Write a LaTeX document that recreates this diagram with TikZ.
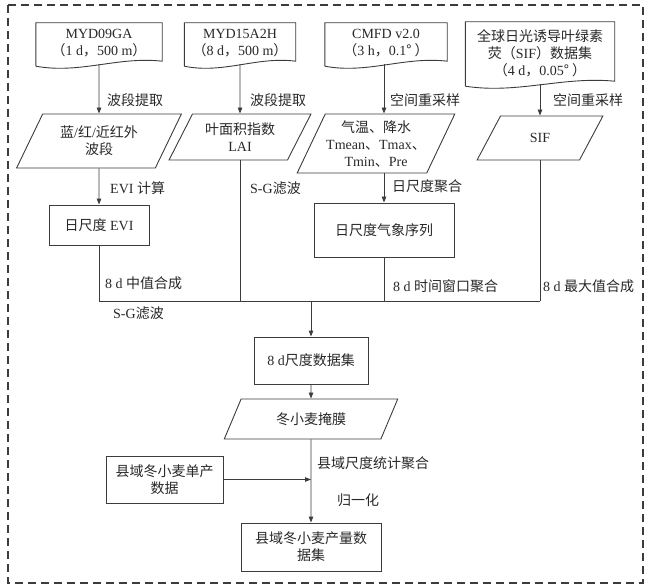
\documentclass[tikz,border=0pt]{standalone}
\usepackage{fontspec}
\setmainfont{Liberation Serif}
\newfontfamily\zhfont{Noto Sans CJK SC}
\newcommand{\zh}[1]{{\zhfont #1}}
\usepackage{tikz}
\usetikzlibrary{shapes.geometric,arrows.meta,positioning,calc}
\definecolor{linecolor}{RGB}{60,60,60}
\definecolor{textcolor}{RGB}{40,40,40}

% outline of a data source: box with a wavy bottom
\newcommand{\docwave}[1]{%
  \draw[line] ($(#1.south west)+(0,2)$) -- (#1.north west) -- (#1.north east)
    -- ($(#1.south east)+(0,-3)$)
    .. controls ($(#1.south east)!0.35!(#1.south west)+(0,-8)$)
    and ($(#1.south west)!0.35!(#1.south east)+(0,10)$) .. ($(#1.south west)+(0,2)$);
}

\begin{document}
\begin{tikzpicture}[
    x=1pt, y=-1pt,
    font=\fontsize{14}{17}\selectfont, text=textcolor,
    line/.style={draw=linecolor, line width=0.9pt},
    arr/.style={line, -{Triangle[length=6pt,width=4.5pt]}},
    datasrc/.style={rectangle, align=center, inner sep=0pt},
    para/.style={trapezium, trapezium left angle=60, trapezium right angle=120,
        trapezium stretches=true, draw=linecolor, line width=0.9pt, align=center, inner sep=1pt},
    box/.style={rectangle, draw=linecolor, line width=0.9pt, align=center},
    lbl/.style={anchor=west, inner sep=0pt}
]
    \useasboundingbox (0,0) rectangle (650,588);
    \draw[draw=linecolor, line width=1.4pt, dash pattern=on 8pt off 5pt] (8,5) rectangle (643,583);

    % data sources
    \node[datasrc, minimum width=126pt, minimum height=41pt] (myd09) at (99,43.5)
        {MYD09GA\\\zh{（}1 d\zh{，}500 m\zh{）}};
    \node[datasrc, minimum width=111pt, minimum height=41pt] (myd15) at (240,43.5)
        {MYD15A2H\\\zh{（}8 d\zh{，}500 m\zh{）}};
    \node[datasrc, minimum width=122pt, minimum height=41pt] (cmfd) at (386,43.5)
        {CMFD v2.0\\\zh{（}3 h\zh{，}0.1\zh{° ）}};
    \node[datasrc, minimum width=149pt, minimum height=62pt] (sifdata) at (540,53)
        {\zh{全球日光诱导叶绿素}\\\zh{荧（}SIF\zh{）数据集}\\\zh{（}4 d\zh{，}0.05\zh{° ）}};
    \docwave{myd09}
    \docwave{myd15}
    \docwave{cmfd}
    \docwave{sifdata}

    % extracted variables
    \node[para, minimum width=165pt, minimum height=54pt] (bands) at (99,141)
        {\zh{蓝}/\zh{红}/\zh{近红外}\\\zh{波段}};
    \node[para, minimum width=142pt, minimum height=46pt] (lai) at (240,137)
        {\zh{叶面积指数}\\LAI};
    \node[para, minimum width=148pt, minimum height=59pt] (meteo) at (376,143.5)
        {\zh{气温、降水}\\Tmean\zh{、}Tmax\zh{、}\\Tmin\zh{、}Pre};
    \node[para, minimum width=126pt, minimum height=44pt] (sif) at (540,138) {SIF};

    % daily products
    \node[box, minimum width=100pt, minimum height=40pt] (evi) at (99,225) {\zh{日尺度} EVI};
    \node[box, minimum width=140pt, minimum height=54pt] (metday) at (384,230) {\zh{日尺度气象序列}};

    % 8 d chain
    \coordinate (merge) at (311,301);
    \node[box, minimum width=114pt, minimum height=47pt] (ds8) at (311,360.5) {8 d\zh{尺度数据集}};
    \node[para, minimum width=175pt, minimum height=40pt] (mask) at (311,419) {\zh{冬小麦掩膜}};
    \node[box, minimum width=117pt, minimum height=47pt] (yield) at (164.5,479.5)
        {\zh{县域冬小麦单产}\\\zh{数据}};
    \node[box, minimum width=140pt, minimum height=48pt] (result) at (311,547)
        {\zh{县域冬小麦产量数}\\\zh{据集}};

    % connectors
    \draw[arr] (myd09) -- (bands);
    \draw[arr] (myd15) -- (lai);
    \draw[arr] (cmfd.south -| metday) -- (meteo.north -| metday);
    \draw[arr] (sifdata) -- (sif);
    \draw[arr] (bands) -- (evi);
    \draw[arr] (meteo.south -| metday) -- (metday);
    \draw[line] (evi) -- (evi |- merge);
    \draw[line] (lai) -- (lai |- merge);
    \draw[line] (metday) -- (metday |- merge);
    \draw[line] (sif) -- (sif |- merge);
    \draw[line] (evi |- merge) -- (sif |- merge);
    \draw[arr] (merge) -- (ds8);
    \draw[arr] (ds8) -- (mask);
    \draw[arr] (mask) -- (result);
    \draw[arr] (yield.east) -- (yield.east -| result);

    % labels
    \node[lbl] (l1) at (107,100) {\zh{波段提取}};
    \node[lbl] (l2) at (250,100) {\zh{波段提取}};
    \node[lbl] (l3) at (390,100) {\zh{空间重采样}};
    \node[lbl] (l4) at (553,100) {\zh{空间重采样}};
    \node[lbl] (l5) at (110,188) {EVI \zh{计算}};
    \node[lbl] (l6) at (250,188) {S-G\zh{滤波}};
    \node[lbl] (l7) at (392,186) {\zh{日尺度聚合}};
    \node[lbl] (l8) at (105,283) {8 d \zh{中值合成}};
    \node[lbl] (l9) at (393,286) {8 d \zh{时间窗口聚合}};
    \node[lbl] (l10) at (543,286) {8 d \zh{最大值合成}};
    \node[lbl] (l11) at (113,313) {S-G\zh{滤波}};
    \node[lbl] (l12) at (317,463) {\zh{县域尺度统计聚合}};
    \node[lbl] (l13) at (337,500) {\zh{归一化}};
\end{tikzpicture}
\end{document}
